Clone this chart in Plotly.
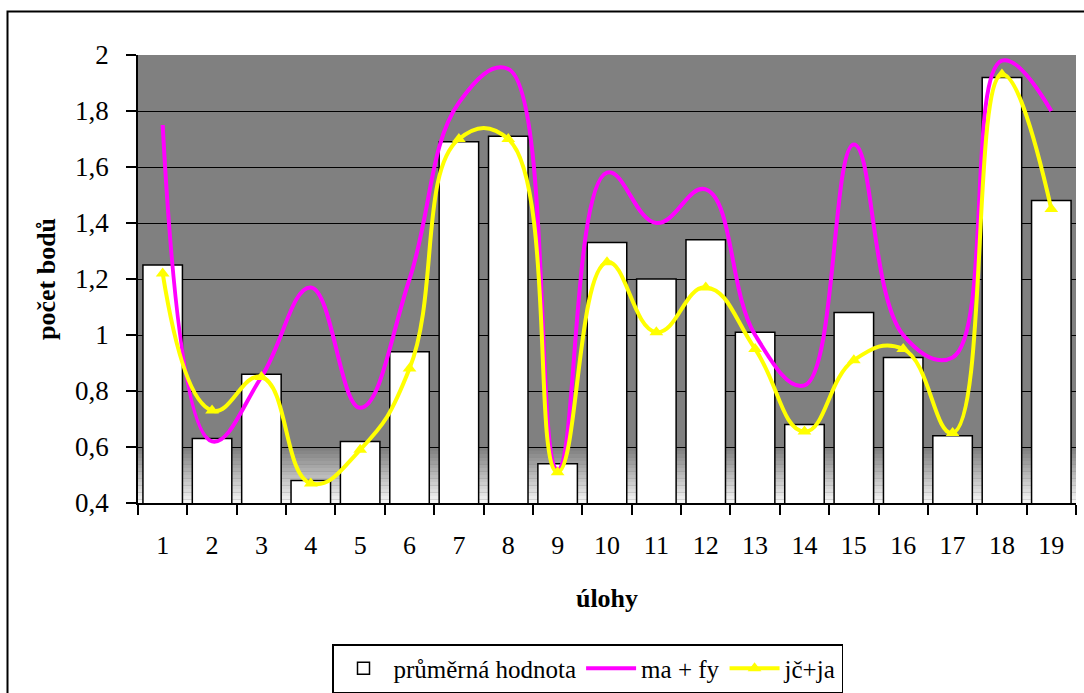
import plotly.graph_objects as go

# ---- data ----
categories = [str(i) for i in range(1, 20)]
prumerna_hodnota = [1.25, 0.63, 0.86, 0.48, 0.62, 0.94, 1.69, 1.71, 0.54, 1.33,
                    1.20, 1.34, 1.01, 0.68, 1.08, 0.92, 0.64, 1.92, 1.48]
ma_fy = [1.75, 0.62, 0.85, 1.17, 0.74, 1.20, 1.83, 1.95, 0.52, 1.58,
         1.40, 1.52, 1.00, 0.82, 1.68, 1.00, 0.92, 1.98, 1.80]
jc_ja = [1.22, 0.73, 0.85, 0.47, 0.59, 0.88, 1.70, 1.70, 0.51, 1.26,
         1.01, 1.17, 0.95, 0.655, 0.91, 0.95, 0.65, 1.93, 1.45]
y_ticks = [0.4, 0.6, 0.8, 1.0, 1.2, 1.4, 1.6, 1.8, 2.0]

FONT = "'Liberation Serif', 'Times New Roman', serif"

fig = go.Figure()
fig.add_trace(go.Bar(
    x=categories, y=prumerna_hodnota, name="průměrná hodnota",
    marker=dict(color="white", line=dict(color="black", width=1.5)),
))
fig.add_trace(go.Scatter(
    x=categories, y=ma_fy, name="ma + fy", mode="lines",
    line=dict(color="#FF00FF", width=4, shape="spline", smoothing=1.2),
))
fig.add_trace(go.Scatter(
    x=categories, y=jc_ja, name="jč+ja", mode="lines+markers",
    line=dict(color="#FFFF00", width=4, shape="spline", smoothing=1.3),
    marker=dict(symbol="triangle-up", size=12, color="#FFFF00"),
))

# gradient at bottom of plot area (decorative)
shapes = []
n = 16
lo, hi = 0.4, 0.6
for i in range(n):
    t = i / (n - 1)
    c = int(0xF4 + (0x80 - 0xF4) * t)
    shapes.append(dict(type="rect", xref="paper", yref="y", x0=0, x1=1,
                       y0=lo + (hi - lo) * i / n, y1=lo + (hi - lo) * (i + 1) / n,
                       fillcolor=f"rgb({c},{c},{c})", line=dict(width=0), layer="below"))
# outer chart border
shapes.append(dict(type="rect", xref="paper", yref="paper",
                   x0=(7.5 - 138) / 938, x1=(1095 - 138) / 938,
                   y0=(503 - 705) / 448, y1=(503 - 11.5) / 448,
                   line=dict(color="black", width=2), fillcolor="rgba(0,0,0,0)"))

fig.update_layout(
    width=1084, height=693,
    margin=dict(l=138, r=8, t=55, b=190, autoexpand=False),
    paper_bgcolor="white", plot_bgcolor="#808080",
    separators=", ",
    font=dict(family=FONT, size=26, color="black"),
    bargap=0.2,
    shapes=shapes,
    showlegend=True,
    legend=dict(orientation="h", x=(332 - 138) / 938, xanchor="left",
                y=(503 - 644) / 448, yanchor="top",
                bordercolor="black", borderwidth=1.5, bgcolor="white",
                font=dict(family=FONT, size=25), traceorder="normal",
                itemwidth=50),
)
fig.update_xaxes(
    type="category", range=[-0.5, 18.5], autorange=False,
    showgrid=False, showline=True, linecolor="black", linewidth=2,
    ticks="outside", tickson="boundaries", ticklen=10, tickcolor="black", tickwidth=1.5,
    ticklabelstandoff=18, tickfont=dict(family=FONT, size=26),
    title=dict(text="<b>úlohy</b>", font=dict(family=FONT, size=26), standoff=30),
)
fig.update_yaxes(
    range=[0.4, 2.0], autorange=False, tickvals=y_ticks,
    showgrid=True, gridcolor="black", gridwidth=1,
    showline=True, linecolor="black", linewidth=1.5, zeroline=False,
    ticks="outside", ticklen=10, tickcolor="black", tickwidth=1.5,
    ticklabelstandoff=12, tickfont=dict(family=FONT, size=27),
    title=dict(text="<b>počet bodů</b>", font=dict(family=FONT, size=26), standoff=12),
)

fig.write_html("out.html")
